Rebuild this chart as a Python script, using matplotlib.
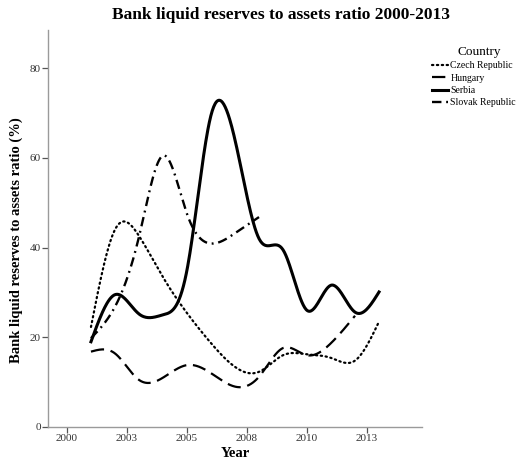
import numpy as np
import matplotlib.pyplot as plt

plt.rcParams['font.family'] = ['Liberation Serif', 'DejaVu Serif']

# Data (annual values, %)
years_cz = [2001, 2002, 2003, 2004, 2005, 2006, 2007, 2008, 2009, 2010, 2011, 2012, 2013]
czech = [22.3, 44.0, 42.6, 33.4, 25.4, 18.7, 13.4, 12.3, 16.0, 16.2, 15.4, 14.8, 23.5]

years_hu = [2001, 2002, 2003, 2004, 2005, 2006, 2007, 2008, 2009, 2010, 2011, 2012]
hungary = [16.8, 16.4, 10.5, 11.0, 13.8, 12.0, 9.0, 11.2, 17.6, 16.0, 18.7, 24.8]

years_rs = [2001, 2002, 2003, 2004, 2005, 2006, 2007, 2008, 2009, 2010, 2011, 2012, 2013]
serbia = [19.0, 29.5, 25.2, 25.0, 35.0, 69.5, 64.0, 42.0, 39.5, 26.0, 31.6, 25.6, 30.1]

years_sk = [2001, 2002, 2003, 2004, 2005, 2006, 2007, 2008]
slovakia = [19.8, 26.8, 42.4, 60.5, 47.5, 40.9, 43.2, 46.8]


def smooth(x, y, n=400):
    # natural cubic spline through the points (for the smoothed SPSS-style lines)
    x = np.asarray(x, float)
    y = np.asarray(y, float)
    k = len(x)
    h = np.diff(x)
    A = np.zeros((k, k))
    b = np.zeros(k)
    A[0, 0] = A[-1, -1] = 1
    for i in range(1, k - 1):
        A[i, i - 1] = h[i - 1]
        A[i, i] = 2 * (h[i - 1] + h[i])
        A[i, i + 1] = h[i]
        b[i] = 6 * ((y[i + 1] - y[i]) / h[i] - (y[i] - y[i - 1]) / h[i - 1])
    m = np.linalg.solve(A, b)
    xs = np.linspace(x[0], x[-1], n)
    idx = np.clip(np.searchsorted(x, xs) - 1, 0, k - 2)
    x0, x1 = x[idx], x[idx + 1]
    hh = x1 - x0
    t0, t1 = x1 - xs, xs - x0
    ys = (m[idx] * t0 ** 3 + m[idx + 1] * t1 ** 3) / (6 * hh) \
        + (y[idx] / hh - m[idx] * hh / 6) * t0 + (y[idx + 1] / hh - m[idx + 1] * hh / 6) * t1
    return xs, ys


fig = plt.figure(figsize=(5.19, 4.63), dpi=100)
ax = fig.add_axes([48 / 519, 1 - 427 / 463, (422 - 48) / 519, (427 - 30) / 463])

ax.plot(*smooth(years_cz, czech), color='black', lw=1.6, linestyle=(0, (0.6, 1.6)),
        dash_capstyle='round', label='Czech Republic')
ax.plot(*smooth(years_hu, hungary), color='black', lw=1.6, linestyle=(0, (6, 3)),
        label='Hungary')
ax.plot(*smooth(years_rs, serbia), color='black', lw=2.2, label='Serbia')
ax.plot(*smooth(years_sk, slovakia), color='black', lw=1.7,
        linestyle=(0, (4, 2, 0.8, 2)), label='Slovak Republic')

ax.set_xlim(1999.21, 2014.79)
ax.set_ylim(0, 88.5)
ax.set_xticks([2000, 2002.5, 2005, 2007.5, 2010, 2012.5])
ax.set_xticklabels(['2000', '2003', '2005', '2008', '2010', '2013'])
ax.set_yticks([0, 20, 40, 60, 80])

for s in ['top', 'right']:
    ax.spines[s].set_visible(False)
for s in ['left', 'bottom']:
    ax.spines[s].set_color('#9a9a9a')
    ax.spines[s].set_linewidth(1.0)
ax.tick_params(axis='both', labelsize=8, colors='#333333', length=4, width=0.9, pad=1)
ax.tick_params(axis='both', color='#555555')

ax.set_xlabel('Year', fontsize=10.5, fontweight='bold')
ax.xaxis.set_label_coords((235 - 48) / 374, -(447 - 427) / 397)
ax.set_ylabel('Bank liquid reserves to assets ratio (%)', fontsize=10.5, fontweight='bold')
ax.yaxis.set_label_coords(-(48 - 23) / 374, (427 - 240) / 397)
fig.text(281 / 519, 1 - 15 / 463, 'Bank liquid reserves to assets ratio 2000-2013',
         ha='center', va='center', fontsize=12.5, fontweight='bold')

leg = fig.legend(loc='upper left', bbox_to_anchor=(427 / 519, 1 - 41 / 463), frameon=False,
                 title='Country', fontsize=7, title_fontsize=9.5, handlelength=1.7,
                 handletextpad=0.2, labelspacing=0.35, borderpad=0)
leg._legend_box.align = 'left'
leg.get_title().set_position((26, 0))

fig.savefig('out.png', dpi=100)
